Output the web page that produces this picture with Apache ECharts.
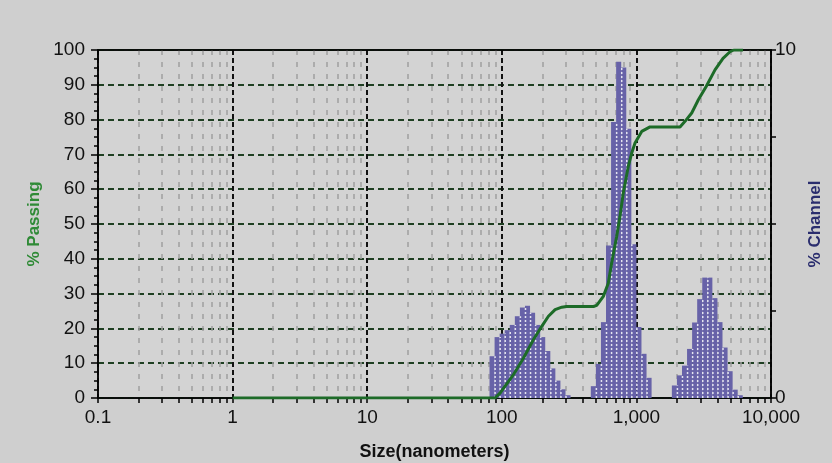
<!DOCTYPE html>
<html>
<head>
    <meta charset="utf-8">
    <title>Size distribution</title>
    <script src="https://cdn.jsdelivr.net/npm/echarts@6/dist/echarts.min.js"></script>
    <style>
        html, body { margin: 0; padding: 0; background: #cfcfcf; }
    </style>
</head>
<body>
<div id="main" style="width: 832px;height:463px;"></div>
<script type="text/javascript">

    // channel edges (nm), one more than the channels
    var channelEdges = [81.07, 88.39, 96.39, 105.1, 114.6, 125, 136.3, 148.7, 162.1, 176.8,
        192.8, 210.2, 229.3, 250, 272.6, 297.3, 324.2, 353.6, 385.6, 420.4,
        458.5, 500, 545.3, 594.6, 648.4, 707.1, 771.1, 840.9, 917.0, 1000,
        1090.5, 1189.2, 1296.8, 1414.2, 1542.2, 1681.8, 1834.0, 2000, 2181.0, 2378.4,
        2593.7, 2828.4, 3084.4, 3363.6, 3668.0, 4000, 4362.0, 4756.8, 5187.4, 5656.9,
        6168.8];
    // % channel
    var channelPct = [1.2, 1.75, 1.85, 1.95, 2.1, 2.35, 2.6, 2.65, 2.45, 2.1,
        1.75, 1.35, 0.85, 0.5, 0.25, 0.08, 0, 0, 0, 0,
        0.34, 0.98, 2.18, 4.38, 7.93, 9.66, 9.5, 7.74, 4.42, 2.04,
        1.27, 0.58, 0, 0, 0, 0, 0.36, 0.65, 0.93, 1.41,
        2.17, 2.84, 3.46, 3.46, 2.87, 2.18, 1.45, 0.77, 0.24, 0.08];
    // % passing curve
    var passSize = [1, 89, 97, 122, 145, 172, 198, 222, 249, 279, 303, 480, 507, 568, 618, 655,
        714, 755, 799, 871, 923, 977, 1095, 1262, 2109, 2297, 2576, 2886, 3300, 3837, 4399, 4960, 5300, 6200];
    var passPct = [0, 0, 1.4, 6.7, 11.5, 16.8, 20.6, 23.5, 25.4, 26.1, 26.3, 26.3, 26.6, 29.2, 33, 38.8,
        46.5, 52.2, 58.9, 66.6, 70.4, 73.3, 76.6, 77.9, 77.9, 79.5, 81.9, 85.7, 89.5, 94.3, 97.6, 99.5, 100, 100];

    var decades = [0.1, 1, 10, 100, 1000];
    var sizeLabels = {'0.1': '0.1', '1': '1', '10': '10', '100': '100', '1000': '1,000', '10000': '10,000'};

    // 2..9 of every decade
    var minorVals = [];
    decades.forEach(function (d) {
        for (var m = 2; m <= 9; m++) minorVals.push(+(m * d).toPrecision(3));
    });

    var barData = [];
    for (var i = 0; i < channelPct.length; i++) {
        barData.push([channelEdges[i], channelEdges[i + 1], channelPct[i]]);
    }
    var passData = passSize.map(function (s, i) { return [s, passPct[i]]; });

    var font = "'Liberation Sans', Arial, sans-serif";
    var myChart = echarts.init(document.getElementById('main'));

    var option = {
        backgroundColor: '#cfcfcf',
        animation: false,
        grid: {
            left: 98, right: 61, top: 50, bottom: 65,
            outerBoundsMode: 'none',
            show: true,
            backgroundColor: '#d3d3d3',
            borderColor: '#000',
            borderWidth: 1.5
        },
        xAxis: [{
            type: 'log',
            logBase: 10,
            min: 0.1,
            max: 10000,
            name: 'Size(nanometers)',
            nameLocation: 'middle',
            nameGap: 45,
            nameTextStyle: {color: '#111', fontSize: 18, fontWeight: 'bold', fontFamily: font},
            axisLine: {lineStyle: {color: '#000', width: 1.5}},
            axisTick: {length: 5, lineStyle: {color: '#000', width: 1.5}},
            axisLabel: {
                color: '#111', fontSize: 19, fontFamily: font, margin: 10,
                formatter: function (v) {
                    var k = String(+v.toPrecision(3));
                    return sizeLabels[k] !== undefined ? sizeLabels[k] : '';
                }
            },
            splitLine: {show: true, lineStyle: {color: '#111', width: 2, type: [5, 3]}}
        }, {
            type: 'log',
            logBase: 10,
            min: 0.1,
            max: 10000,
            position: 'bottom',
            axisLine: {show: false},
            axisTick: {customValues: minorVals, length: 5, lineStyle: {color: '#000', width: 1.5}},
            axisLabel: {show: false},
            splitLine: {show: true, lineStyle: {color: '#a0a0a0', width: 1.5, type: [5, 7]}}
        }, {
            type: 'log',
            logBase: 10,
            min: 0.1,
            max: 10000,
            position: 'top',
            axisLine: {lineStyle: {color: '#000', width: 1.5}},
            axisTick: {show: false},
            axisLabel: {show: false},
            splitLine: {show: false}
        }],
        yAxis: [{
            type: 'value',
            min: 0,
            max: 100,
            interval: 10,
            name: '% Passing',
            nameLocation: 'middle',
            nameGap: 50,
            nameTextStyle: {color: '#2f8a36', fontSize: 17, fontWeight: 'bold', fontFamily: font},
            axisLine: {show: true, lineStyle: {color: '#000', width: 1.5}},
            axisTick: {show: true, length: 7, lineStyle: {color: '#000', width: 1.5}},
            minorTick: {show: true, splitNumber: 4, length: 4, lineStyle: {color: '#000', width: 1.5}},
            axisLabel: {color: '#111', fontSize: 19, fontFamily: font, margin: 13},
            splitLine: {show: true, lineStyle: {color: '#1f3f22', width: 2, type: [6, 4]}}
        }, {
            type: 'value',
            min: 0,
            max: 10,
            interval: 2.5,
            position: 'right',
            name: '% Channel',
            nameLocation: 'middle',
            nameGap: 36,
            nameRotate: 90,
            nameTextStyle: {color: '#2a2d6e', fontSize: 17, fontWeight: 'bold', fontFamily: font},
            axisLine: {show: true, lineStyle: {color: '#000', width: 1.5}},
            axisTick: {show: true, length: 5, lineStyle: {color: '#000', width: 1.5}},
            axisLabel: {
                color: '#111', fontSize: 19, fontFamily: font, margin: 4,
                formatter: function (v) { return (v === 0 || v === 10) ? String(v) : ''; }
            },
            splitLine: {show: false}
        }],
        series: [{
            name: 'channel',
            type: 'custom',
            xAxisIndex: 0,
            yAxisIndex: 1,
            z: 3,
            encode: {x: [0, 1], y: 2},
            data: barData,
            renderItem: function (params, api) {
                var i = params.dataIndex;
                var lo = api.value(0), hi = api.value(1), v = api.value(2);
                if (!(v > 0)) return null;
                var p0 = api.coord([lo, 0]);
                var p1 = api.coord([hi, v]);
                var children = [{
                    type: 'rect',
                    shape: {x: p0[0], y: p1[1], width: p1[0] - p0[0], height: p0[1] - p1[1]},
                    style: {fill: '#6762a8'}
                }];
                var prev = i > 0 ? channelPct[i - 1] : 0;
                var h = Math.min(prev, v);
                if (h > 0) {
                    var pt = api.coord([lo, h]);
                    children.push({
                        type: 'line',
                        shape: {x1: p0[0] + 0.5, y1: p0[1], x2: p0[0] + 0.5, y2: pt[1]},
                        style: {stroke: '#e4e4f0', lineWidth: 1.5, lineDash: [2, 2]}
                    });
                }
                return {type: 'group', children: children};
            }
        }, {
            name: 'passing',
            type: 'line',
            xAxisIndex: 0,
            yAxisIndex: 0,
            z: 4,
            symbol: 'none',
            lineStyle: {color: '#1d6b28', width: 3},
            data: passData
        }]
    };
    myChart.setOption(option);
</script>
</body>
</html>
